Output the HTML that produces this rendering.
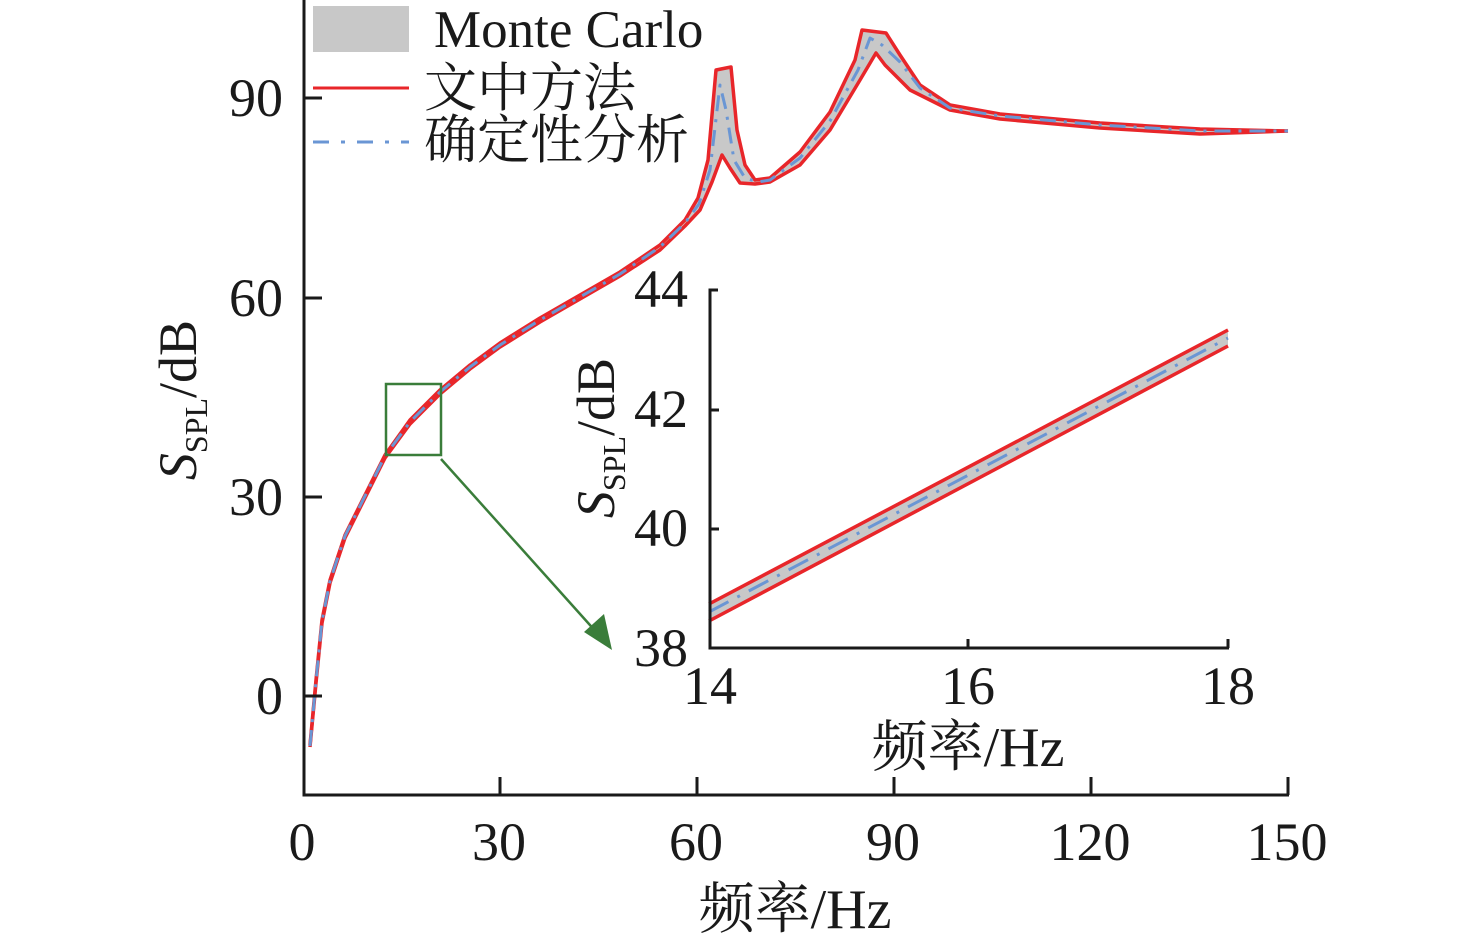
<!DOCTYPE html>
<html><head><meta charset="utf-8"><style>
html,body{margin:0;padding:0;background:#fff;}
svg{display:block;}
text{font-family:"Liberation Serif","Noto Serif CJK SC",serif;fill:#1a1a1a;}
</style></head><body>
<svg width="1476" height="947" viewBox="0 0 1476 947" xmlns="http://www.w3.org/2000/svg">
<path d="M310,745 L316,680 L322,620 L330,580 L345,535 L365,495 L385,455 L410,420 L440,390 L470,365 L500,343 L540,318 L580,295 L620,272 L660,245 L685,220 L698,198 L708,160 L716,70 L731,67 L737,130 L745,165 L755,180 L770,178 L800,152 L830,112 L855,60 L862,30 L886,33 L900,55 L920,85 L950,105 L1000,114 L1100,123 L1200,129 L1288,131 L1200,134 L1100,128 L1000,119 L950,110 L910,90 L885,65 L876,53 L860,80 L830,130 L800,165 L770,182 L755,184 L740,183 L730,168 L722,155 L712,182 L700,210 L685,226 L660,250 L620,276 L580,299 L540,322 L500,347 L470,369 L440,394 L410,424 L385,458 L365,498 L345,538 L330,583 L322,623 L316,683 L310,747 Z" fill="#c8c8c8"/>
<path d="M310,745 L316,680 L322,620 L330,580 L345,535 L365,495 L385,455 L410,420 L440,390 L470,365 L500,343 L540,318 L580,295 L620,272 L660,245 L685,220 L698,198 L708,160 L716,70 L731,67 L737,130 L745,165 L755,180 L770,178 L800,152 L830,112 L855,60 L862,30 L886,33 L900,55 L920,85 L950,105 L1000,114 L1100,123 L1200,129 L1288,131" fill="none" stroke="#e8262a" stroke-width="3.5" stroke-linejoin="round"/>
<path d="M310,747 L316,683 L322,623 L330,583 L345,538 L365,498 L385,458 L410,424 L440,394 L470,369 L500,347 L540,322 L580,299 L620,276 L660,250 L685,226 L700,210 L712,182 L722,155 L730,168 L740,183 L755,184 L770,182 L800,165 L830,130 L860,80 L876,53 L885,65 L910,90 L950,110 L1000,119 L1100,128 L1200,134 L1288,131" fill="none" stroke="#e8262a" stroke-width="3.5" stroke-linejoin="round"/>
<path d="M310,746 L316,681 L322,621 L330,581 L345,536 L365,496 L385,456 L410,422 L440,392 L470,367 L500,345 L540,320 L580,297 L620,274 L660,247 L685,223 L699,204 L710,170 L720,85 L726,110 L734,160 L745,178 L758,182 L770,180 L800,158 L830,121 L858,70 L870,38 L882,45 L900,62 L920,88 L950,108 L1000,116 L1100,125 L1200,131 L1288,131" fill="none" stroke="#6a96d4" stroke-width="3" stroke-dasharray="16,8,3,8" stroke-linejoin="round"/>
<g stroke="#1a1a1a" stroke-width="3" fill="none">
<path d="M304,0 L304,795 L1289,795"/>
<path d="M304,696 L322,696 M304,497 L322,497 M304,298 L322,298 M304,98 L322,98"/>
<path d="M500,795 L500,777 M697,795 L697,777 M894,795 L894,777 M1091,795 L1091,777 M1288,795 L1288,777"/>
</g>
<g font-size="54" text-anchor="end">
<text x="283" y="714">0</text><text x="283" y="515">30</text><text x="283" y="316">60</text><text x="283" y="116">90</text>
</g>
<g font-size="54" text-anchor="middle">
<text x="302" y="860">0</text><text x="499" y="860">30</text><text x="696" y="860">60</text><text x="893" y="860">90</text><text x="1090" y="860">120</text><text x="1287" y="860">150</text>
<text x="795" y="928" font-size="56">频率/Hz</text>
<text x="968" y="766" font-size="56">频率/Hz</text>
</g>
<text font-size="54" transform="translate(196,400) rotate(-90)" text-anchor="middle"><tspan font-style="italic">S</tspan><tspan font-size="32" dy="11">SPL</tspan><tspan dy="-11">/dB</tspan></text>
<rect x="313" y="6" width="96" height="46" fill="#c8c8c8"/>
<line x1="313" y1="88" x2="409" y2="88" stroke="#e8262a" stroke-width="3"/>
<line x1="313" y1="142" x2="409" y2="142" stroke="#6a96d4" stroke-width="3" stroke-dasharray="16,12,4,12"/>
<g font-size="53"><text x="434" y="47">Monte Carlo</text><text x="424" y="106">文中方法</text><text x="424" y="158">确定性分析</text></g>
<rect x="386" y="384" width="55" height="71" fill="none" stroke="#3a7d3a" stroke-width="2.5"/>
<line x1="441" y1="459" x2="598" y2="634" stroke="#3a7d3a" stroke-width="2.5"/>
<polygon points="612,650 584,632 604,614" fill="#3a7d3a"/>
<path d="M709,604 L1228,330 L1228,346 L709,621 Z" fill="#c8c8c8"/>
<line x1="709" y1="604" x2="1228" y2="330" stroke="#e8262a" stroke-width="3.5"/>
<line x1="709" y1="621" x2="1228" y2="346" stroke="#e8262a" stroke-width="3.5"/>
<line x1="709" y1="612" x2="1228" y2="338" stroke="#6a96d4" stroke-width="3" stroke-dasharray="22,10,3,10"/>
<g stroke="#1a1a1a" stroke-width="3" fill="none">
<path d="M718,290 L710,290 L710,648 L1229,648"/>
<path d="M710,410 L719,410 M710,529 L719,529 M968,648 L968,639 M1228,648 L1228,639"/>
</g>
<g font-size="54" text-anchor="end">
<text x="688" y="307">44</text><text x="688" y="427">42</text><text x="688" y="546">40</text><text x="688" y="666">38</text>
</g>
<g font-size="54" text-anchor="middle">
<text x="710" y="704">14</text><text x="968" y="704">16</text><text x="1228" y="704">18</text>
</g>
<text font-size="54" transform="translate(614,438) rotate(-90)" text-anchor="middle"><tspan font-style="italic">S</tspan><tspan font-size="32" dy="11">SPL</tspan><tspan dy="-11">/dB</tspan></text>
</svg>
</body></html>
